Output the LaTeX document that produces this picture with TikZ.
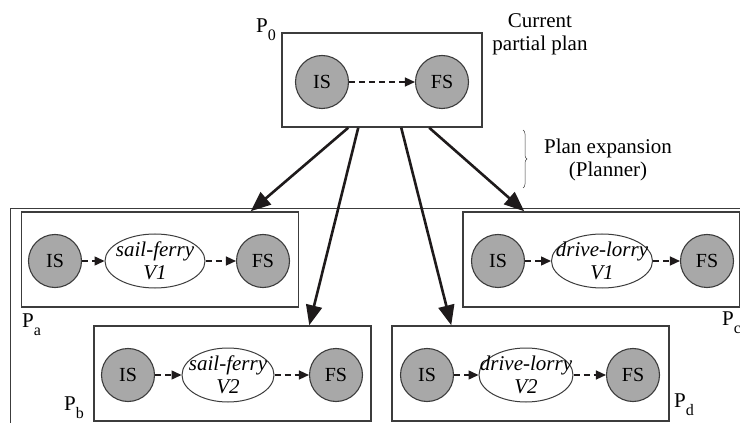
\documentclass[tikz,border=0pt]{standalone}
\usepackage{fontspec}
\setmainfont{Liberation Serif}
\usetikzlibrary{positioning, arrows.meta, shapes.geometric, decorations.pathreplacing}
\definecolor{stategray}{RGB}{168,168,168}
\definecolor{boxline}{RGB}{60,60,60}
\definecolor{arrowink}{RGB}{30,26,27}
\newcommand{\plabel}[1]{P\raisebox{-8pt}{\fontsize{16}{16}\selectfont #1}}

\begin{document}
\begin{tikzpicture}[x=1pt,y=-1pt,on grid,
  font=\rmfamily\fontsize{21}{23}\selectfont,
  state/.style={circle,draw=boxline,fill=stategray,line width=1.1pt,minimum size=53pt,inner sep=0pt,font=\rmfamily\fontsize{20}{22}\selectfont},
  act/.style={ellipse,draw=boxline,fill=white,line width=1pt,minimum width=#1,minimum height=54pt,inner sep=0pt},
  actname/.style={align=center,inner sep=0pt,font=\rmfamily\itshape\fontsize{21}{23}\selectfont},
  plan/.style={draw=boxline,line width=1.5pt,minimum width=277pt,minimum height=95pt,inner sep=0pt},
  plabel/.style={anchor=base west,inner sep=0pt},
  seq/.style={color=arrowink,dash pattern=on 6pt off 4pt,line width=1.4pt,-{Triangle[length=10pt,width=9pt]}},
  expand/.style={color=arrowink,line width=2.6pt,-{Triangle[length=20pt,width=16pt]}}]
  \useasboundingbox (0,0) rectangle (740,425);

  \draw[boxline, line width=0.9pt] (740,208) -| (10,423);

  \node[plan, minimum width=200pt, minimum height=94pt] (p0) at (382,80) {};
  \node[state] (is0) at (322,82) {IS};
  \node[state] (fs0) [right=120pt of is0] {FS};
  \node[plabel] (lp0) at (256,33) {\plabel{0}};

  \node[plan] (pa) at (160,259.5) {};
  \node[state] (isa) at (55,261) {IS};
  \node[act=100pt, label={[actname]center:sail-ferry\\V1}] (ea) [right=100pt of isa] {};
  \node[state] (fsa) [right=108pt of ea] {FS};
  \node[plabel] (lpa) at (22,327) {\plabel{a}};

  \node[plan] (pb) at (232.5,373.5) {};
  \node[state] (isb) at (128,375) {IS};
  \node[act=92pt, label={[actname]center:sail-ferry\\V2}] (eb) [right=100pt of isb] {};
  \node[state] (fsb) [right=108pt of eb] {FS};
  \node[plabel] (lpb) at (64,410) {\plabel{b}};

  \node[plan] (pc) at (601.5,259.5) {};
  \node[state] (isc) at (498,261) {IS};
  \node[act=101pt, label={[actname]center:drive-lorry\\V1}] (ec) [right=104pt of isc] {};
  \node[state] (fsc) [right=105pt of ec] {FS};
  \node[plabel] (lpc) at (722,325) {\plabel{c}};

  \node[plan] (pd) at (530.5,373.5) {};
  \node[state] (isd) at (427,375) {IS};
  \node[act=94pt, label={[actname]center:drive-lorry\\V2}] (ed) [right=99pt of isd] {};
  \node[state] (fsd) [right=107pt of ed] {FS};
  \node[plabel] (lpd) at (674,407) {\plabel{d}};

  \node[align=center] (current) at (540,34) {Current\\partial plan};
  \node[align=center] (expansion) at (608,160) {Plan expansion\\(Planner)};
  \coordinate (bt) at (523,130);
  \coordinate (bb) at (523,188);
  \draw[boxline, line width=0.5pt, decorate, decoration={brace, amplitude=4pt}] (bt) -- (bb);

  \path[seq]
    (is0) edge (fs0)
    (isa) edge (ea)
    (ea) edge (fsa)
    (isb) edge (eb)
    (eb) edge (fsb)
    (isc) edge (ec)
    (ec) edge (fsc)
    (isd) edge (ed)
    (ed) edge (fsd);

  \path[expand]
    ([xshift=67pt]p0.south west) edge ([xshift=230pt]pa.north west)
    ([xshift=77pt]p0.south west) edge ([xshift=216pt]pb.north west)
    ([xshift=120pt]p0.south west) edge ([xshift=60pt]pd.north west)
    ([xshift=148pt]p0.south west) edge ([xshift=62pt]pc.north west);
\end{tikzpicture}
\end{document}
